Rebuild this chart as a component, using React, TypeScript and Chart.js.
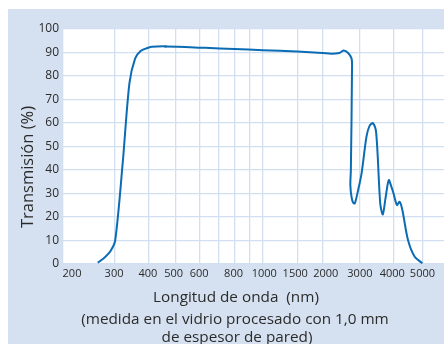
import React, { useEffect, useRef } from 'react';
import { Chart, registerables } from 'chart.js';

Chart.register(...registerables);

// Transmission curve, wavelength in nm
const WAVELENGTH_NM = [
  263, 279, 291, 302, 322, 341, 358, 375, 395, 412, 461, 630, 800, 1000, 1500, 2000,
  2200, 2400, 2520, 2640, 2740, 2755, 2720, 2705, 2740, 2790, 2840, 2944, 3044, 3175,
  3260, 3357, 3453, 3574, 3654, 3740, 3845, 3930, 4005, 4112, 4198, 4287, 4476, 4712, 5000,
];
const TRANSMISSION_PCT = [
  0.5, 3, 5.5, 10, 43, 77, 87.5, 90.6, 91.8, 92.4, 92.6, 92.0, 91.5, 91.0, 90.4, 89.8,
  89.5, 89.8, 90.8, 89.8, 87.5, 84, 40, 33.6, 28.5, 26, 25.8, 31.5, 38.6, 54.2,
  58.8, 59.9, 55.6, 25.8, 21.1, 28, 35.7, 33, 30.1, 25.1, 26.5, 23, 10.2, 3.1, 0.3,
];
// The small square mark sitting on the curve
const MARKED_NM = 461;

// Non-uniform wavelength axis: grid break values and their relative axis position
const AXIS_NM = [200, 300, 400, 500, 600, 700, 800, 900, 1000, 1500, 2000, 3000, 4000, 5000];
const AXIS_U = [0, 0.143, 0.237, 0.313, 0.379, 0.432, 0.477, 0.519, 0.555, 0.652, 0.722, 0.826, 0.919, 1];
// Tick labels and where they sit along the axis
const X_TICK_LABELS = ['200', '300', '400', '500', '600', '800', '1000', '1500', '2000', '3000', '4000', '5000'];
const X_LABEL_U = [0.025, 0.142, 0.236, 0.308, 0.379, 0.4745, 0.56, 0.646, 0.731, 0.826, 0.916, 1.0];
const X_MAX_U = 1.06;

const Y_MIN = 0;
const Y_MAX = 100;
const Y_STEP = 10;

const X_TITLE = 'Longitud de onda  (nm)';
const X_NOTE = ['(medida en el vidrio procesado con 1,0 mm', 'de espesor de pared)'];
const Y_TITLE = 'Transmisión (%)';

const FONT = "'Open Sans', 'Noto Sans', sans-serif";
const PANEL = '#d5e1f0';
const GRID = '#d2dff1';
const LINE = '#0b6cb3';
const TEXT = '#2b2b2b';

function toU(nm: number): number {
  for (let i = 0; i < AXIS_NM.length - 1; i++) {
    const a = AXIS_NM[i];
    const b = AXIS_NM[i + 1];
    if (nm <= b || i === AXIS_NM.length - 2) {
      const t = Math.log(nm / a) / Math.log(b / a);
      return AXIS_U[i] + t * (AXIS_U[i + 1] - AXIS_U[i]);
    }
  }
  return 0;
}

const panelPlugin = {
  id: 'panel',
  beforeDraw(chart: any) {
    const { ctx, chartArea } = chart;
    ctx.save();
    ctx.fillStyle = PANEL;
    ctx.fillRect(0, 0, chart.width, chart.height);
    ctx.fillStyle = '#ffffff';
    ctx.fillRect(chartArea.left, chartArea.top, chartArea.right - chartArea.left, chartArea.bottom - chartArea.top);
    ctx.restore();
  },
  afterDraw(chart: any) {
    const { ctx } = chart;
    ctx.save();
    ctx.fillStyle = TEXT;
    ctx.textAlign = 'center';
    ctx.textBaseline = 'alphabetic';
    ctx.font = `15.3px ${FONT}`;
    ctx.fillText(X_TITLE, 228, 293);
    ctx.fillText(X_NOTE[0], 227, 315);
    ctx.fillText(X_NOTE[1], 229, 333);
    ctx.translate(20, 158);
    ctx.rotate(-Math.PI / 2);
    ctx.textBaseline = 'middle';
    ctx.font = `16.5px ${FONT}`;
    ctx.fillText(Y_TITLE, 0, 0);
    ctx.restore();
  },
};

export default function App() {
  const ref = useRef<HTMLCanvasElement>(null);
  useEffect(() => {
    if (!ref.current) return;
    const points = WAVELENGTH_NM.map((nm, i) => ({ x: toU(nm), y: TRANSMISSION_PCT[i] }));
    const markIndex = WAVELENGTH_NM.indexOf(MARKED_NM);
    const chart = new Chart(ref.current, {
      type: 'line',
      data: {
        datasets: [
          {
            data: points,
            borderColor: LINE,
            backgroundColor: LINE,
            borderWidth: 2,
            pointStyle: 'rect',
            pointRadius: (c: any) => (c.dataIndex === markIndex ? 1.5 : 0),
            pointBorderWidth: 0,
            tension: 0.3,
            fill: false,
          },
        ],
      },
      options: {
        responsive: false,
        animation: false,
        layout: { padding: { top: 20, left: 0, right: 0, bottom: 0 } },
        plugins: { legend: { display: false }, tooltip: { enabled: false } },
        scales: {
          x: {
            type: 'linear',
            position: 'bottom',
            min: 0,
            max: X_MAX_U,
            border: { display: false },
            grid: { color: GRID, lineWidth: 1.3, drawTicks: false },
            afterBuildTicks: (scale: any) => {
              scale.ticks = AXIS_U.map((v) => ({ value: v }));
            },
            afterFit: (scale: any) => {
              scale.height = 0;
            },
            ticks: { display: false },
          },
          xLabels: {
            type: 'linear',
            position: 'bottom',
            min: 0,
            max: X_MAX_U,
            border: { display: false },
            grid: { display: false, drawTicks: false },
            afterBuildTicks: (scale: any) => {
              scale.ticks = X_LABEL_U.map((v) => ({ value: v }));
            },
            afterFit: (scale: any) => {
              scale.height = 80;
            },
            ticks: {
              autoSkip: false,
              maxRotation: 0,
              padding: 3,
              color: TEXT,
              font: { family: FONT, size: 11 },
              callback: (_v: any, i: number) => X_TICK_LABELS[i],
            },
          },
          y: {
            min: Y_MIN,
            max: Y_MAX,
            border: { display: false },
            grid: { color: GRID, lineWidth: 1.3, drawTicks: false },
            afterFit: (scale: any) => {
              scale.width = 55;
            },
            ticks: {
              stepSize: Y_STEP,
              padding: 4,
              color: TEXT,
              font: { family: FONT, size: 12 },
            },
          },
        },
      },
      plugins: [panelPlugin],
    });
    return () => chart.destroy();
  }, []);
  return (
    <div style={{ position: 'fixed', left: 8, top: 9, width: 436, height: 335 }}>
      <canvas ref={ref} width={436} height={335} style={{ display: 'block' }} />
    </div>
  );
}
